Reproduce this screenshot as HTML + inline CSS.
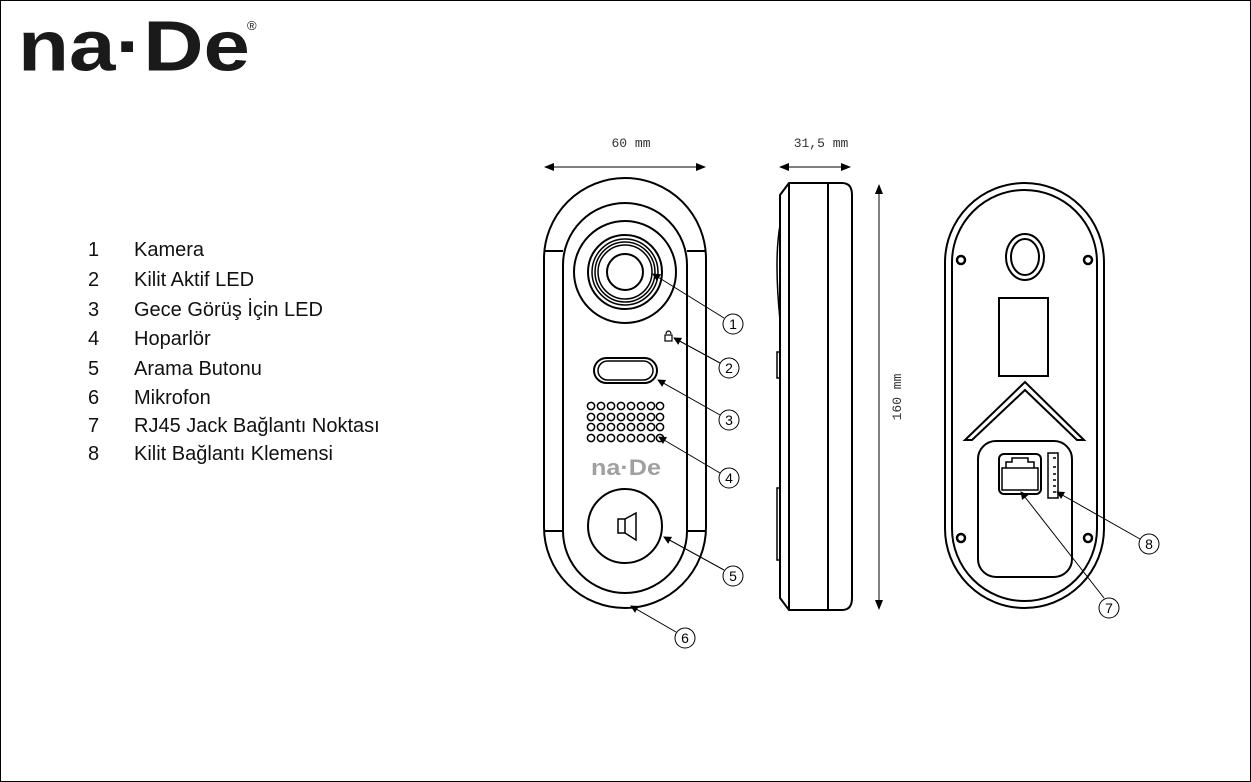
<!DOCTYPE html>
<html><head><meta charset="utf-8"><style>
html,body{margin:0;padding:0;background:#fff}
svg{display:block}
text{font-family:"Liberation Sans",sans-serif}
.m{font-family:"Liberation Mono",monospace;font-size:13px;fill:#333}
.l{font-size:20px;fill:#111}
</style></head><body>
<svg width="1251" height="782" viewBox="0 0 1251 782" xmlns="http://www.w3.org/2000/svg">
<defs>
<marker id="a" markerWidth="8" markerHeight="8" refX="7" refY="4" orient="auto" markerUnits="userSpaceOnUse"><path d="M0,0 L8,4 L0,8 z" fill="#000"/></marker>
<marker id="b" markerWidth="10" markerHeight="8" refX="9" refY="4" orient="auto-start-reverse" markerUnits="userSpaceOnUse"><path d="M0,0 L10,4 L0,8 z" fill="#000"/></marker>
</defs>
<rect x="0.5" y="0.5" width="1250" height="781" fill="#fff" stroke="#000"/>
<!-- logo -->
<text x="18" y="70" font-size="64" font-weight="bold" fill="#1a1a1a" textLength="232" lengthAdjust="spacingAndGlyphs" transform="translate(0,-8) scale(1,1.12)">na·De</text>
<text x="247" y="30" font-size="13" fill="#1a1a1a">®</text>
<!-- legend -->
<g class="l">
<text x="88" y="256">1</text><text x="134" y="256">Kamera</text>
<text x="88" y="286">2</text><text x="134" y="286">Kilit Aktif LED</text>
<text x="88" y="316">3</text><text x="134" y="316">Gece Görüş İçin LED</text>
<text x="88" y="345">4</text><text x="134" y="345">Hoparlör</text>
<text x="88" y="375">5</text><text x="134" y="375">Arama Butonu</text>
<text x="88" y="404">6</text><text x="134" y="404">Mikrofon</text>
<text x="88" y="432">7</text><text x="134" y="432">RJ45 Jack Bağlantı Noktası</text>
<text x="88" y="460">8</text><text x="134" y="460">Kilit Bağlantı Klemensi</text>
</g>
<!-- dims -->
<text class="m" x="631" y="147" text-anchor="middle">60 mm</text>
<line x1="545" y1="167" x2="705" y2="167" stroke="#000" marker-start="url(#b)" marker-end="url(#b)"/>
<text class="m" x="821" y="147" text-anchor="middle">31,5 mm</text>
<line x1="780" y1="167" x2="850" y2="167" stroke="#000" marker-start="url(#b)" marker-end="url(#b)"/>
<line x1="879" y1="185" x2="879" y2="609" stroke="#000" marker-start="url(#b)" marker-end="url(#b)"/>
<text class="m" x="901" y="397" text-anchor="middle" transform="rotate(-90 901 397)">160 mm</text>
<g fill="none" stroke="#000" stroke-width="2">
<!-- front -->
<rect x="544" y="178" width="162" height="430" rx="81"/>
<rect x="563" y="203" width="124" height="390" rx="62"/>
<line x1="544" y1="251" x2="563" y2="251"/><line x1="687" y1="251" x2="706" y2="251"/>
<line x1="544" y1="531" x2="563" y2="531"/><line x1="687" y1="531" x2="706" y2="531"/>
<circle cx="625" cy="272" r="51"/><circle cx="625" cy="272" r="37"/><circle cx="625" cy="272" r="33" stroke-width="1.5"/><circle cx="625" cy="272" r="30" stroke-width="1.5"/><circle cx="625" cy="272" r="27" stroke-width="1.5"/><circle cx="625" cy="272" r="18"/>
<rect x="594" y="358" width="63" height="25" rx="12.5"/><rect x="598" y="361" width="55" height="19" rx="9.5" stroke-width="1.5"/>
<circle cx="625" cy="526" r="37"/>
<rect x="618" y="519" width="7" height="14" stroke-width="1.5"/><path d="M625,519 L636,513 L636,540 L625,533" stroke-width="1.5"/>
<rect x="665" y="335" width="7" height="6" stroke-width="1.2"/><path d="M666,334 a2.5,3 0 0 1 5,0" stroke-width="1.2"/>
<!-- side -->
<path d="M789,183 L842,183 Q852,183 852,195 L852,598 Q852,610 842,610 L789,610 L780,598 L780,195 Z"/>
<line x1="789" y1="183" x2="789" y2="610"/><line x1="828" y1="183" x2="828" y2="610"/>
<path d="M780,225 Q774,260 780,320" stroke-width="1.5"/>
<rect x="777" y="352" width="3" height="26" stroke-width="1.5"/><rect x="777" y="488" width="3" height="72" stroke-width="1.5"/>
<!-- back -->
<rect x="945" y="183" width="159" height="425" rx="79.5"/>
<rect x="952" y="190" width="145" height="411" rx="72.5"/>
<ellipse cx="1025" cy="257" rx="19" ry="23"/><ellipse cx="1025" cy="257" rx="14" ry="18"/>
<rect x="999" y="298" width="49" height="78"/>
<path d="M965,440 L1025,382 L1084,440 L1077,440 L1025,390 L972,440 Z"/>
<rect x="978" y="441" width="94" height="136" rx="18"/>
<rect x="999" y="454" width="42" height="40" rx="5"/>
<rect x="1002" y="468" width="36" height="22" stroke-width="1.5"/>
<path d="M1006,468 L1006,462 L1012,462 L1012,458 L1028,458 L1028,462 L1034,462 L1034,468" stroke-width="1.5"/>
<rect x="1048" y="453" width="10" height="45" stroke-width="1.5"/>
<path d="M1053,458 h3 M1053,467 h3 M1053,474 h3 M1053,480 h3 M1053,486 h3 M1053,492 h3" stroke-width="1.5"/>
</g>
<g fill="none" stroke="#000" stroke-width="2.5">
<circle cx="961" cy="260" r="4"/><circle cx="1088" cy="260" r="4"/><circle cx="961" cy="538" r="4"/><circle cx="1088" cy="538" r="4"/>
</g>
<!-- speaker holes -->
<g fill="none" stroke="#000" stroke-width="1.5">
<circle cx="591" cy="406" r="3.6"/><circle cx="601" cy="406" r="3.6"/><circle cx="611" cy="406" r="3.6"/><circle cx="621" cy="406" r="3.6"/><circle cx="631" cy="406" r="3.6"/><circle cx="641" cy="406" r="3.6"/><circle cx="651" cy="406" r="3.6"/><circle cx="660" cy="406" r="3.6"/>
<circle cx="591" cy="417" r="3.6"/><circle cx="601" cy="417" r="3.6"/><circle cx="611" cy="417" r="3.6"/><circle cx="621" cy="417" r="3.6"/><circle cx="631" cy="417" r="3.6"/><circle cx="641" cy="417" r="3.6"/><circle cx="651" cy="417" r="3.6"/><circle cx="660" cy="417" r="3.6"/>
<circle cx="591" cy="427" r="3.6"/><circle cx="601" cy="427" r="3.6"/><circle cx="611" cy="427" r="3.6"/><circle cx="621" cy="427" r="3.6"/><circle cx="631" cy="427" r="3.6"/><circle cx="641" cy="427" r="3.6"/><circle cx="651" cy="427" r="3.6"/><circle cx="660" cy="427" r="3.6"/>
<circle cx="591" cy="438" r="3.6"/><circle cx="601" cy="438" r="3.6"/><circle cx="611" cy="438" r="3.6"/><circle cx="621" cy="438" r="3.6"/><circle cx="631" cy="438" r="3.6"/><circle cx="641" cy="438" r="3.6"/><circle cx="651" cy="438" r="3.6"/><circle cx="660" cy="438" r="3.6"/>
</g>
<text x="591" y="475" font-size="22" font-weight="bold" fill="#a0a0a0" textLength="70" lengthAdjust="spacingAndGlyphs">na·De</text>
<!-- callouts -->
<g stroke="#000" stroke-width="1" fill="none">
<line x1="724" y1="318" x2="653" y2="274" marker-end="url(#a)"/>
<line x1="720" y1="363" x2="674" y2="338" marker-end="url(#a)"/>
<line x1="720" y1="415" x2="658" y2="380" marker-end="url(#a)"/>
<line x1="720" y1="473" x2="659" y2="437" marker-end="url(#a)"/>
<line x1="724" y1="570" x2="664" y2="537" marker-end="url(#a)"/>
<line x1="676" y1="632" x2="631" y2="606" marker-end="url(#a)"/>
<line x1="1104" y1="598" x2="1021" y2="492" marker-end="url(#a)"/>
<line x1="1140" y1="539" x2="1057" y2="492" marker-end="url(#a)"/>
<circle cx="733" cy="324" r="10"/><circle cx="729" cy="368" r="10"/><circle cx="729" cy="420" r="10"/><circle cx="729" cy="478" r="10"/><circle cx="733" cy="576" r="10"/><circle cx="685" cy="638" r="10"/><circle cx="1109" cy="608" r="10"/><circle cx="1149" cy="544" r="10"/>
</g>
<g font-size="14" text-anchor="middle" fill="#000">
<text x="733" y="329">1</text><text x="729" y="373">2</text><text x="729" y="425">3</text><text x="729" y="483">4</text><text x="733" y="581">5</text><text x="685" y="643">6</text><text x="1109" y="613">7</text><text x="1149" y="549">8</text>
</g>
</svg>
</body></html>
